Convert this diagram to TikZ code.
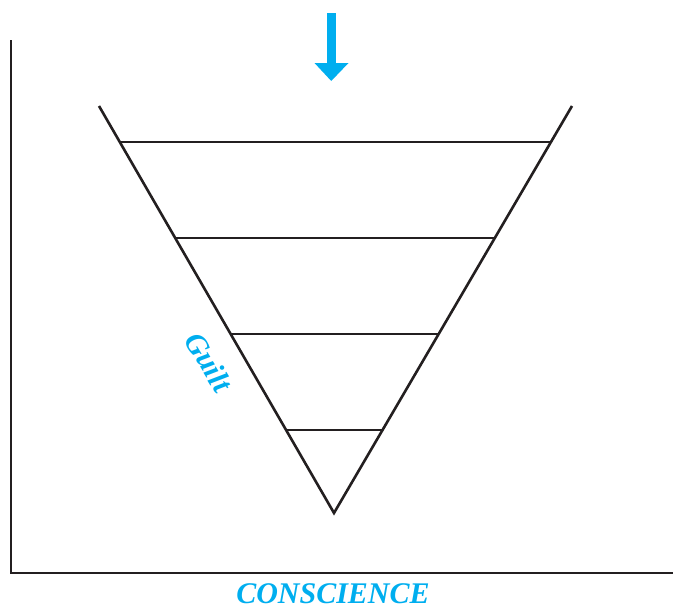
\documentclass[tikz,border=0pt]{standalone}
\usepackage{fontspec}
\newfontfamily\lblfont{Liberation Serif}
\usetikzlibrary{calc}
\definecolor{cyanblue}{RGB}{0,174,239}
\definecolor{ink}{RGB}{35,31,32}
\tikzset{
  edge/.style={draw=ink, line width=2.6pt},
  axisline/.style={draw=ink, line width=2.9pt},
  lbl/.style={text=cyanblue, font=\lblfont\fontsize{30}{34}\selectfont\bfseries\itshape, inner sep=0pt}
}
\begin{document}
\begin{tikzpicture}[x=1pt,y=-1pt]
\useasboundingbox (0,0) rectangle (673,605);
% axes
\coordinate (axtop) at (11,40);
\coordinate (origin) at (11,573);
\coordinate (axright) at (673,573);
\draw[axisline] (axtop) -- (origin) -- (axright);
% inverted triangle
\coordinate (tl) at (99,106);
\coordinate (tr) at (572,106);
\coordinate (apex) at (334,513);
\draw[edge] (tl) -- (apex) -- (tr);
% horizontal layers
\foreach \y [count=\i] in {142,238,334,430}{
  \coordinate (l\i) at ($(tl)!{(\y-106)/407}!(apex)$);
  \coordinate (r\i) at ($(tr)!{(\y-106)/407}!(apex)$);
  \draw[edge] (l\i) -- (r\i);
}
% arrow
\coordinate (s1) at (327,13);
\coordinate (s2) at (335.5,64);
\fill[cyanblue] (s1) rectangle (s2);
\coordinate (h1) at (314.5,63);
\coordinate (h2) at (348.5,63);
\coordinate (h3) at (331.25,81);
\fill[cyanblue] (h1) -- (h2) -- (h3) -- cycle;
% labels
\node[lbl, rotate=-59] (guilt) at (209,362) {Guilt};
\node[lbl] (consc) at (333,594) {CONSCIENCE};
\end{tikzpicture}
\end{document}
